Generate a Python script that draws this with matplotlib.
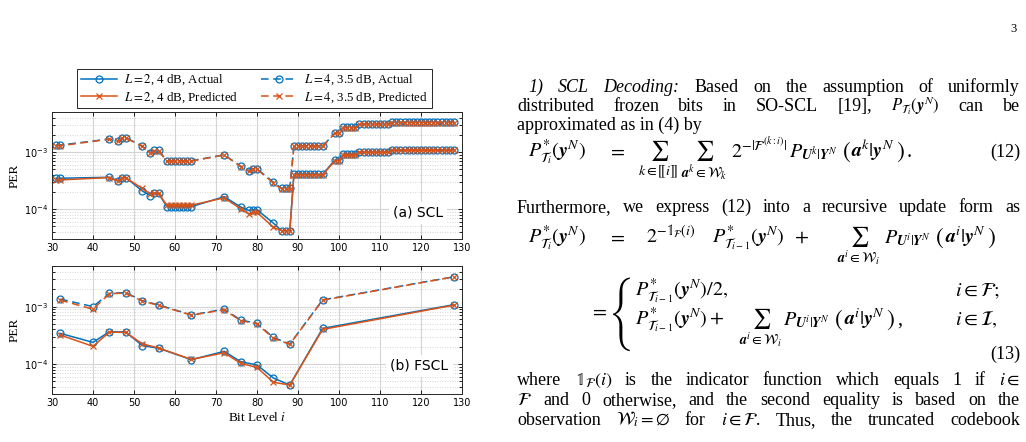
import matplotlib
matplotlib.use('Agg')
import matplotlib.pyplot as plt
import numpy as np

plt.rcParams['mathtext.fontset'] = 'stix'
plt.rcParams['font.family'] = 'DejaVu Sans'

W, H = 1026, 442
BLUE = '#0072BD'
ORANGE = '#D95319'

# ---- data: SCL (information bits, grouped where the PER is flat) ----
scl_groups = [[31, 32], [44], [46], [47, 48], [52], [54], [55, 56],
              list(range(58, 65)), [72], [76], [78], [79, 80], [84],
              [86, 87, 88], list(range(89, 97)), [99, 100],
              list(range(101, 105)), list(range(105, 113)), list(range(113, 129))]
scl_l2_act = [3.5e-4, 3.64e-4, 3.18e-4, 3.6e-4, 2.1e-4, 1.74e-4, 1.9e-4, 1.11e-4, 1.66e-4,
              1.1e-4, 0.95e-4, 0.98e-4, 5.7e-5, 4.2e-5, 4.1e-4, 7.3e-4, 9.2e-4, 1.02e-3, 1.1e-3]
scl_l2_pred = [3.27e-4, 3.6e-4, 3.1e-4, 3.55e-4, 2.33e-4, 1.85e-4, 1.9e-4, 1.18e-4, 1.58e-4,
               1.02e-4, 0.83e-4, 0.88e-4, 4.8e-5, 4.2e-5, 4.0e-4, 7.1e-4, 8.9e-4, 1.0e-3, 1.08e-3]
scl_l4_act = [1.34e-3, 1.71e-3, 1.58e-3, 1.8e-3, 1.29e-3, 0.98e-3, 1.08e-3, 0.71e-3, 0.9e-3,
              0.575e-3, 0.476e-3, 0.51e-3, 0.298e-3, 0.233e-3, 1.29e-3, 2.18e-3, 2.74e-3, 3.13e-3, 3.36e-3]
scl_l4_pred = [1.3e-3, 1.7e-3, 1.55e-3, 1.78e-3, 1.27e-3, 0.97e-3, 1.06e-3, 0.70e-3, 0.9e-3,
               0.56e-3, 0.46e-3, 0.5e-3, 0.29e-3, 0.226e-3, 1.27e-3, 2.15e-3, 2.7e-3, 3.1e-3, 3.33e-3]

# ---- data: FSCL ----
fscl_x = [32, 40, 44, 48, 52, 56, 64, 72, 76, 80, 84, 88, 96, 128]
fscl_l2_act = [3.42e-4, 2.38e-4, 3.66e-4, 3.6e-4, 2.1e-4, 1.88e-4, 1.19e-4, 1.66e-4, 1.1e-4,
               0.96e-4, 5.7e-5, 4.3e-5, 4.18e-4, 1.08e-3]
fscl_l2_pred = [3.2e-4, 2.03e-4, 3.6e-4, 3.55e-4, 2.25e-4, 1.9e-4, 1.2e-4, 1.57e-4, 1.03e-4,
                0.87e-4, 4.8e-5, 4.3e-5, 4.0e-4, 1.06e-3]
fscl_l4_act = [1.35e-3, 1.0e-3, 1.7e-3, 1.75e-3, 1.27e-3, 1.07e-3, 0.716e-3, 0.9e-3, 0.585e-3,
               0.51e-3, 0.29e-3, 0.223e-3, 1.31e-3, 3.3e-3]
fscl_l4_pred = [1.3e-3, 0.9e-3, 1.68e-3, 1.72e-3, 1.25e-3, 1.05e-3, 0.71e-3, 0.88e-3, 0.57e-3,
                0.5e-3, 0.28e-3, 0.22e-3, 1.29e-3, 3.3e-3]

labels = [r'$L = 2$, 4 dB, Actual', r'$L = 2$, 4 dB, Predicted',
          r'$L = 4$, 3.5 dB, Actual', r'$L = 4$, 3.5 dB, Predicted']

scl_x = [b for g in scl_groups for b in g]
counts = [len(g) for g in scl_groups]


def expand(vals):
    return np.repeat(vals, counts)


fig = plt.figure(figsize=(W / 100, H / 100), dpi=100)
SERIF = 'Liberation Serif'


def px_axes(x0, y0, x1, y1):
    return fig.add_axes([x0 / W, 1 - y1 / H, (x1 - x0) / W, (y1 - y0) / H])


def style(ax):
    ax.set_xlim(30, 130)
    ax.set_ylim(3e-5, 5.1e-3)
    ax.set_yscale('log')
    ax.set_xticks(range(30, 131, 10))
    ax.tick_params(which='both', direction='in', top=True, right=True, labelsize=7,
                   length=3, width=0.6, pad=3)
    ax.tick_params(which='minor', length=2)
    ax.grid(True, which='major', color='#d5d5d5', lw=0.8)
    ax.grid(True, which='minor', axis='y', color='#c8c8c8', lw=0.6, ls=(0, (1, 2)))
    for s in ax.spines.values():
        s.set_linewidth(0.7)
        s.set_color('#262626')
    ax.set_ylabel('PER', family=SERIF, fontsize=9.5, labelpad=2)
    ax.set_axisbelow(True)


def draw(ax, x, a2, p2, a4, p4):
    kw = dict(lw=1.1, markersize=5)
    h = []
    h += ax.plot(x, a2, '-o', color=BLUE, mfc='none', mew=0.9, **kw)
    h += ax.plot(x, a4, '--o', color=BLUE, mfc='none', mew=0.9, dashes=(5, 3), **kw)
    h += ax.plot(x, p2, '-x', color=ORANGE, mew=0.9, **kw)
    h += ax.plot(x, p4, '--x', color=ORANGE, mew=0.9, dashes=(5, 3), **kw)
    return h


ax1 = px_axes(52, 112, 462, 239)
style(ax1)
h = draw(ax1, scl_x, expand(scl_l2_act), expand(scl_l2_pred),
         expand(scl_l4_act), expand(scl_l4_pred))
ax1.text(119.3, 0.86e-4, '(a) SCL', fontsize=10, ha='center', va='center',
         bbox=dict(facecolor='white', edgecolor='none', pad=3))

ax2 = px_axes(52, 266, 462, 394)
style(ax2)
draw(ax2, fscl_x, fscl_l2_act, fscl_l2_pred, fscl_l4_act, fscl_l4_pred)
ax2.text(119.6, 0.93e-4, '(b) FSCL', fontsize=10, ha='center', va='center',
         bbox=dict(facecolor='white', edgecolor='none', pad=3))
ax2.set_xlabel(r'Bit Level $i$', family=SERIF, fontsize=9.5, labelpad=2)

leg = fig.legend([h[0], h[2], h[1], h[3]], labels, ncol=2, loc='upper left',
                 bbox_to_anchor=(77 / W, 1 - 69 / H), prop={'family': SERIF, 'size': 9.3},
                 fancybox=False, edgecolor='#262626', framealpha=1, handlelength=2.8,
                 borderpad=0.3, labelspacing=0.2, columnspacing=1.8, handletextpad=0.5,
                 borderaxespad=0)
leg.get_frame().set_linewidth(0.7)

# ---- right hand text column ----
FS = 13
MS = 14.5
renderer = fig.canvas.get_renderer()


def put(s, x, y, ha='left', size=FS, **kw):
    kw.setdefault('family', SERIF)
    return fig.text(x / W, 1 - y / H, s, ha=ha, va='baseline', fontsize=size, **kw)


def width(t):
    return t.get_window_extent(renderer).width


def right(t):
    return t.get_window_extent(renderer).x1


def justify(tokens, x0, x1, y):
    ts = []
    for t in tokens:
        if isinstance(t, tuple):
            ts.append(put(t[0], 0, y, **t[1]))
        else:
            ts.append(put(t, 0, y))
    ws = [width(t) for t in ts]
    gap = (x1 - x0 - sum(ws)) / (len(ts) - 1)
    x = x0
    for t, w in zip(ts, ws):
        t.set_x(x / W)
        x += w + gap


def paren_group(inner, x, y, tail=''):
    # big parentheses around a conditional probability argument
    a = put('(', x, y + 1, size=17, family='STIXGeneral')
    x += width(a) + 1
    b = put(inner, x, y, size=MS)
    x += width(b) + 1
    c = put(')', x, y + 1, size=17, family='STIXGeneral')
    x += width(c) + 3
    if tail:
        put(tail, x, y, size=MS)


IT = {'style': 'italic'}
XL, XR = 517, 1020
put('3', 1017, 32, ha='right', size=9)
justify([('1)', IT), ('SCL', IT), ('Decoding:', IT), 'Based', 'on', 'the',
         'assumption', 'of', 'uniformly'], 528, XR, 92)
justify(['distributed', 'frozen', 'bits', 'in', 'SO-SCL', '[19],',
         (r'$P_{\mathcal{T}_i}(\mathbfit{y}^N)$', {'size': 12}), 'can', 'be'], XL, XR, 111)
put('approximated as in (4) by', XL, 130)

# equation (12)
put(r'$P^{*}_{\mathcal{T}_i}(\mathbfit{y}^N)$', 528, 157, size=MS)
put(r'$=$', 608, 157, size=MS)
put(r'$\sum_{k\in[\![i]\!]}$', 658, 157, ha='center', size=MS)
put(r'$\sum_{\mathbfit{a}^k\in\mathcal{W}_k}$', 704, 157, ha='center', size=MS)
t = put(r'$2^{-|\mathcal{F}^{(k:i)}|}$', 731, 157, size=MS)
t = put(r'$P_{\mathbfit{U}^k|\mathbfit{Y}^N}$', max(788, right(t) + 2), 157, size=MS)
paren_group(r'$\mathbfit{a}^k|\mathbfit{y}^N$', right(t) + 5, 157, tail='.')
put('(12)', XR, 157, ha='right')

justify(['Furthermore,', 'we', 'express', '(12)', 'into', 'a', 'recursive', 'update', 'form', 'as'],
        XL, XR, 212)

# equation (13)
put(r'$P^{*}_{\mathcal{T}_i}(\mathbfit{y}^N)$', 528, 243, size=MS)
put(r'$=$', 608, 243, size=MS)
put(r'$2^{-\mathbb{1}_{\mathcal{F}}(i)}$', 646, 243, size=MS)
t = put(r'$P^{*}_{\mathcal{T}_{i-1}}(\mathbfit{y}^N)$', 712, 243, size=MS)
put(r'$+$', right(t) + 10, 243, size=MS)
put(r'$\sum_{\mathbfit{a}^i\in\mathcal{W}_i}$', 858, 243, ha='center', size=MS)
t = put(r'$P_{\mathbfit{U}^i|\mathbfit{Y}^N}$', 884, 243, size=MS)
paren_group(r'$\mathbfit{a}^i|\mathbfit{y}^N$', right(t) + 5, 243)

put(r'$=$', 590, 317, size=MS)
put('{', 609, 339, family='STIXSizeFourSym', size=17)
put(r'$P^{*}_{\mathcal{T}_{i-1}}(\mathbfit{y}^N)/2,$', 635, 296, size=MS)
put(r'$i\in\mathcal{F};$', 955, 296, size=MS)
put(r'$P^{*}_{\mathcal{T}_{i-1}}(\mathbfit{y}^N) +$', 635, 325, size=MS)
s = put(r'$\sum_{\mathbfit{a}^i\in\mathcal{W}_i}$', 760, 325, ha='center', size=MS)
t = put(r'$P_{\mathbfit{U}^i|\mathbfit{Y}^N}$', right(s) + 2, 325, size=MS)
paren_group(r'$\mathbfit{a}^i|\mathbfit{y}^N$', right(t) + 5, 325, tail=',')
put(r'$i\in\mathcal{I},$', 955, 325, size=MS)
put('(13)', XR, 359, ha='right')

justify(['where', r'$\mathbb{1}_{\mathcal{F}}(i)$', 'is', 'the', 'indicator', 'function', 'which',
         'equals', '1', 'if', r'$i\in$'], XL, XR, 385)
justify([r'$\mathcal{F}$', 'and', '0', 'otherwise,', 'and', 'the', 'second', 'equality', 'is',
         'based', 'on', 'the'], XL, XR, 405)
justify(['observation', r'$\mathcal{W}_i=\emptyset$', 'for', r'$i\in\mathcal{F}$.', 'Thus,', 'the',
         'truncated', 'codebook'], XL, XR, 425)

fig.savefig('out.png', dpi=100)
